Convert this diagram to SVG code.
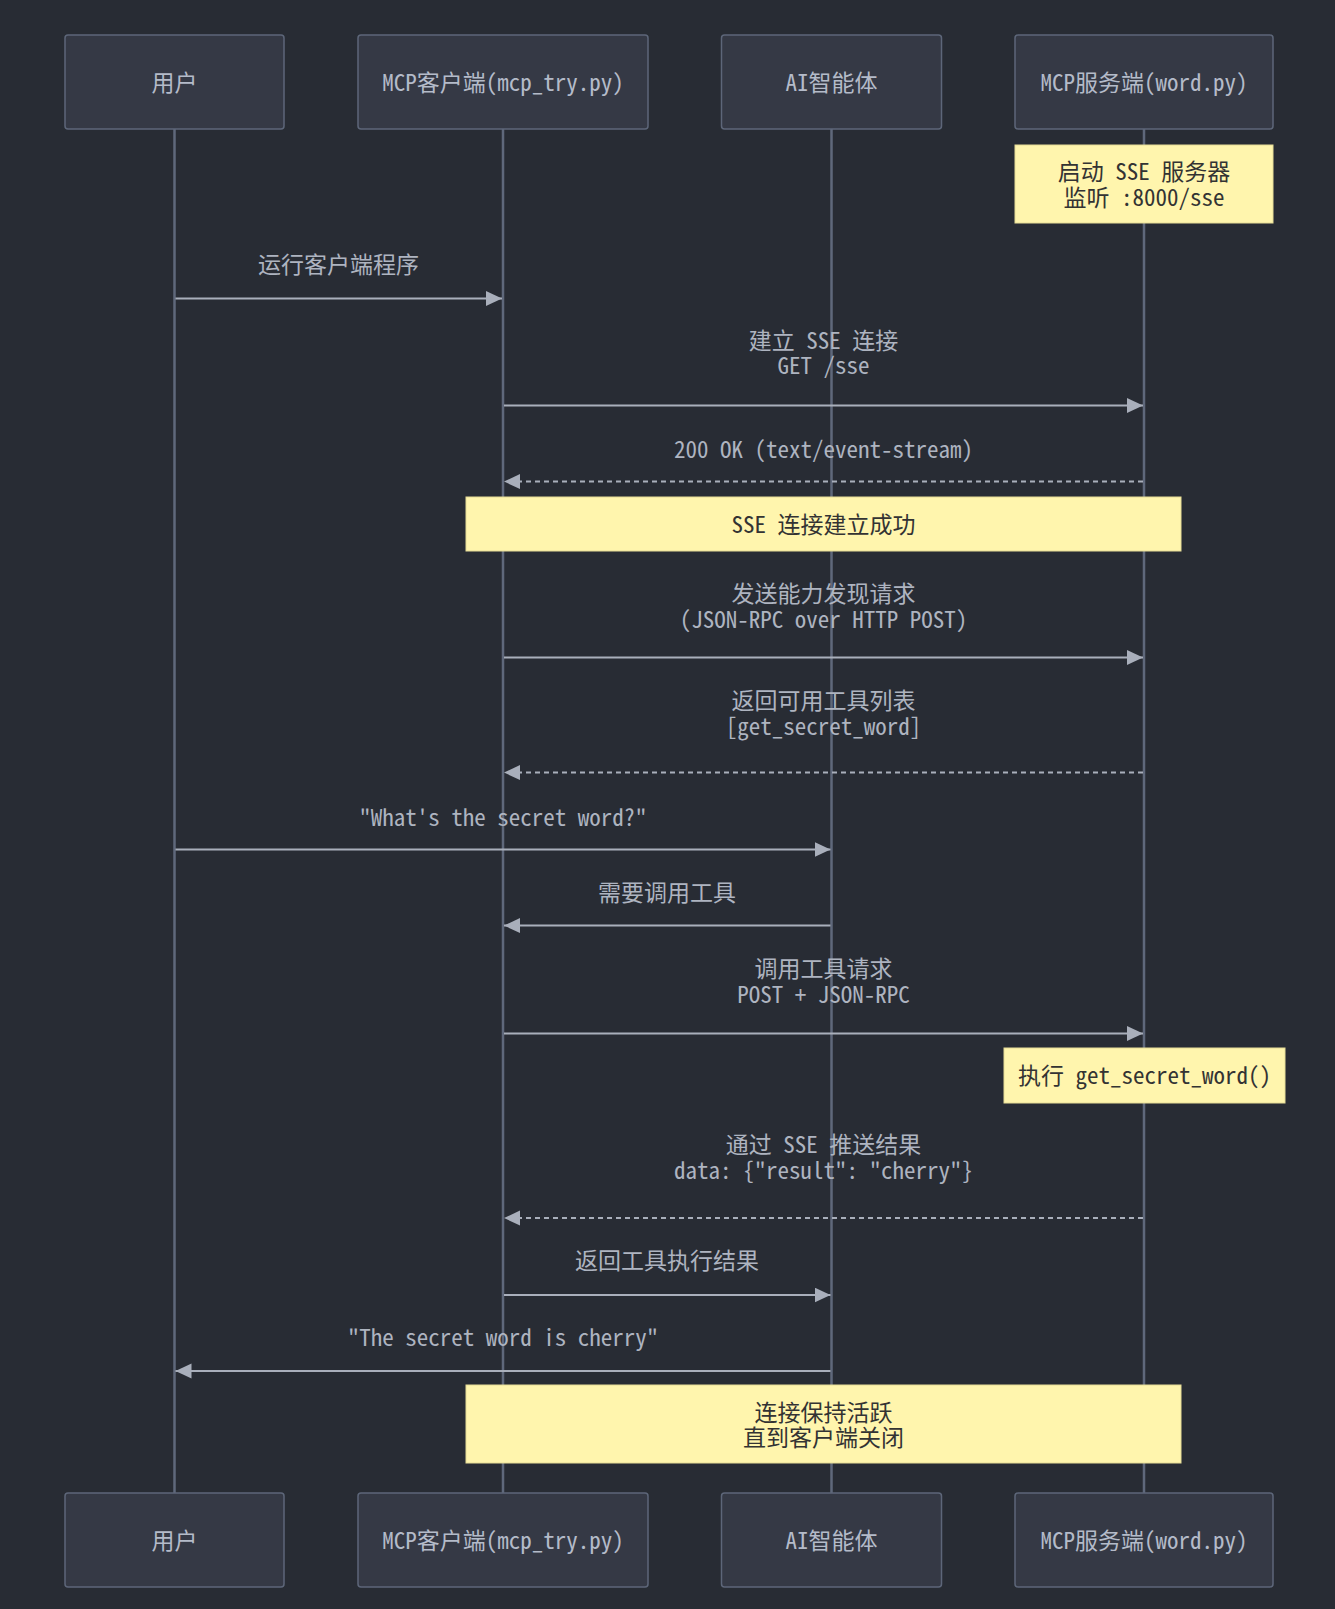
<svg xmlns="http://www.w3.org/2000/svg" width="1335" height="1609" viewBox="0 0 1335 1609">
<style>
text{font-family:"Noto Sans Mono CJK SC","Noto Sans CJK SC",monospace;font-size:23px;text-anchor:middle;dominant-baseline:central}
.actor rect{fill:#353945;stroke:#5d6679;stroke-width:1.5}
.actor text{fill:#b4bbc9}
.life{stroke:#5f687b;stroke-width:2.5}
.msg{stroke:#a9afbb;stroke-width:2.2;fill:none}
.dash{stroke-dasharray:5 4}
.lbl{fill:#aeb4c0}
.note rect{fill:#fff5ad;stroke:#e6dc96;stroke-width:1}
.note text{fill:#333}
</style>
<defs>
<marker id="ah" markerUnits="userSpaceOnUse" markerWidth="17" markerHeight="16" refX="16" refY="7.5" orient="auto">
<path d="M0,0 L16,7.5 L0,15 z" fill="#a9afbb"/>
</marker>
</defs>
<rect x="0" y="0" width="1335" height="1609" fill="#282c34"/>
<g id="lifelines">
<line class="life" x1="174.5" y1="129" x2="174.5" y2="1493"/>
<line class="life" x1="503" y1="129" x2="503" y2="1493"/>
<line class="life" x1="831.5" y1="129" x2="831.5" y2="1493"/>
<line class="life" x1="1144" y1="129" x2="1144" y2="1493"/>
</g>
<g id="actor-user" class="actor"><rect x="65" y="35" width="219" height="94" rx="3"/><text x="174.5" y="81">用户</text></g>
<g id="actor-client" class="actor"><rect x="358" y="35" width="290" height="94" rx="3"/><text x="503" y="81">MCP客户端(mcp_try.py)</text></g>
<g id="actor-ai" class="actor"><rect x="721.5" y="35" width="220" height="94" rx="3"/><text x="831.5" y="81">AI智能体</text></g>
<g id="actor-server" class="actor"><rect x="1015" y="35" width="258" height="94" rx="3"/><text x="1144" y="81">MCP服务端(word.py)</text></g>
<g id="actor-user-bottom" class="actor"><rect x="65" y="1493" width="219" height="94" rx="3"/><text x="174.5" y="1539">用户</text></g>
<g id="actor-client-bottom" class="actor"><rect x="358" y="1493" width="290" height="94" rx="3"/><text x="503" y="1539">MCP客户端(mcp_try.py)</text></g>
<g id="actor-ai-bottom" class="actor"><rect x="721.5" y="1493" width="220" height="94" rx="3"/><text x="831.5" y="1539">AI智能体</text></g>
<g id="actor-server-bottom" class="actor"><rect x="1015" y="1493" width="258" height="94" rx="3"/><text x="1144" y="1539">MCP服务端(word.py)</text></g>
<g id="note-start" class="note"><rect x="1015" y="145" width="258" height="78"/><text x="1144" y="170">启动 SSE 服务器</text><text x="1144" y="195.5">监听 :8000/sse</text></g>
<g id="note-connected" class="note"><rect x="466" y="497" width="715" height="54"/><text x="823.5" y="523">SSE 连接建立成功</text></g>
<g id="note-exec" class="note"><rect x="1004" y="1048" width="281" height="55"/><text x="1144.5" y="1074">执行 get_secret_word()</text></g>
<g id="note-keep" class="note"><rect x="466" y="1385" width="715" height="78"/><text x="823.5" y="1410.5">连接保持活跃</text><text x="823.5" y="1435.5">直到客户端关闭</text></g>
<g id="connectors">
<line class="msg" x1="175.5" y1="298.5" x2="502" y2="298.5" marker-end="url(#ah)"/>
<text class="lbl" x="338.5" y="262.5">运行客户端程序</text>
<line class="msg" x1="504" y1="405.5" x2="1143" y2="405.5" marker-end="url(#ah)"/>
<text class="lbl" x="823.5" y="338.5">建立 SSE 连接</text>
<text class="lbl" x="823.5" y="364">GET /sse</text>
<line class="msg dash" x1="1143" y1="481.5" x2="504" y2="481.5" marker-end="url(#ah)"/>
<text class="lbl" x="823.5" y="447.5">200 OK (text/event-stream)</text>
<line class="msg" x1="504" y1="657.5" x2="1143" y2="657.5" marker-end="url(#ah)"/>
<text class="lbl" x="823.5" y="592">发送能力发现请求</text>
<text class="lbl" x="823.5" y="618">(JSON-RPC over HTTP POST)</text>
<line class="msg dash" x1="1143" y1="772.5" x2="504" y2="772.5" marker-end="url(#ah)"/>
<text class="lbl" x="823.5" y="699">返回可用工具列表</text>
<text class="lbl" x="823.5" y="724.5">[get_secret_word]</text>
<line class="msg" x1="175.5" y1="849.5" x2="830.5" y2="849.5" marker-end="url(#ah)"/>
<text class="lbl" x="503" y="816">"What's the secret word?"</text>
<line class="msg" x1="830.5" y1="925.5" x2="504" y2="925.5" marker-end="url(#ah)"/>
<text class="lbl" x="667" y="890.5">需要调用工具</text>
<line class="msg" x1="504" y1="1033.5" x2="1143" y2="1033.5" marker-end="url(#ah)"/>
<text class="lbl" x="823.5" y="967">调用工具请求</text>
<text class="lbl" x="823.5" y="992.5">POST + JSON-RPC</text>
<line class="msg dash" x1="1143" y1="1218" x2="504" y2="1218" marker-end="url(#ah)"/>
<text class="lbl" x="823.5" y="1143">通过 SSE 推送结果</text>
<text class="lbl" x="823.5" y="1169">data: {"result": "cherry"}</text>
<line class="msg" x1="504" y1="1295" x2="830.5" y2="1295" marker-end="url(#ah)"/>
<text class="lbl" x="667" y="1259">返回工具执行结果</text>
<line class="msg" x1="830.5" y1="1371" x2="175.5" y2="1371" marker-end="url(#ah)"/>
<text class="lbl" x="503" y="1336">"The secret word is cherry"</text>
</g>
</svg>
